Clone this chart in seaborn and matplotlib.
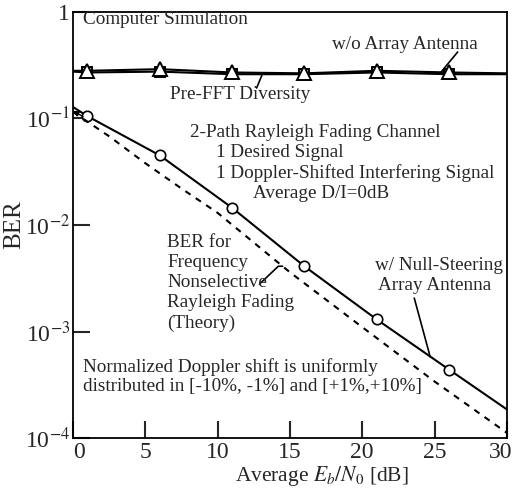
import numpy as np
import pandas as pd
import matplotlib
matplotlib.use("Agg")
import matplotlib.pyplot as plt
import matplotlib.transforms as mtransforms
import seaborn as sns

# ---- data ----
ebn0_sim = [0, 1, 6, 11, 16, 21, 26, 30]
wo_array = [0.28, 0.28, 0.29, 0.27, 0.265, 0.28, 0.27, 0.265]
pre_fft = [0.275, 0.27, 0.275, 0.26, 0.26, 0.27, 0.26, 0.26]
null_steer = [0.128, 0.105, 0.045, 0.0145, 0.0041, 0.0013, 0.00044, 0.000186]
ebn0_theory = [0, 2.5, 5, 7.5, 10, 15, 20, 25, 30]
theory = [0.115, 0.068, 0.038, 0.022, 0.013, 0.0036, 0.0011, 0.00034, 0.000112]
x_ticks = [0, 5, 10, 15, 20, 25, 30]
y_ticks = [1e-4, 1e-3, 1e-2, 1e-1, 1]
y_tick_labels = ["10$^{-4}$", "10$^{-3}$", "10$^{-2}$", "10$^{-1}$", "1"]

sns.set_style("white")
plt.rcParams["font.family"] = ["Liberation Serif", "DejaVu Serif"]
plt.rcParams["mathtext.fontset"] = "stix"

fig = plt.figure(figsize=(5.14, 4.95), dpi=100)
ax = fig.add_axes([0.142, 0.115, 0.844, 0.861])

df_sim = pd.DataFrame({"x": ebn0_sim, "wo": wo_array, "pre": pre_fft, "null": null_steer})
df_th = pd.DataFrame({"x": ebn0_theory, "th": theory})
mk = [1, 2, 3, 4, 5, 6]

sns.lineplot(data=df_sim, x="x", y="pre", ax=ax, color="black", lw=1.5,
             marker="s", markevery=mk, markersize=7.5, markerfacecolor="white",
             markeredgecolor="black", markeredgewidth=1.4)
sns.lineplot(data=df_sim, x="x", y="wo", ax=ax, color="black", lw=1.5,
             marker="^", markevery=mk, markersize=10, markerfacecolor="white",
             markeredgecolor="black", markeredgewidth=1.4)
sns.lineplot(data=df_sim, x="x", y="null", ax=ax, color="black", lw=1.5,
             marker="o", markevery=mk, markersize=7.5, markerfacecolor="white",
             markeredgecolor="black", markeredgewidth=1.2)
sns.lineplot(data=df_th, x="x", y="th", ax=ax, color="black", lw=1.5,
             linestyle=(0, (3, 3)))

ax.set_yscale("log")
ax.set_xlim(0, 30)
ax.set_ylim(1e-4, 1)
ax.set_xticks(x_ticks)
ax.set_xticklabels([str(t) for t in x_ticks])
ax.set_yticks(y_ticks)
ax.set_yticklabels(y_tick_labels)
ax.minorticks_off()
ax.tick_params(axis="both", direction="in", length=12, width=1.5,
               labelsize=17, left=True, bottom=True, top=False, right=False)
ax.tick_params(axis="x", pad=3)
ax.tick_params(axis="y", pad=2)
for s in ax.spines.values():
    s.set_color("black")
    s.set_linewidth(1.3)

xlabels = ax.get_xticklabels()
xlabels[0].set_horizontalalignment("left")
xlabels[-1].set_transform(xlabels[-1].get_transform() +
                          mtransforms.ScaledTranslation(-6 / 100, 0, fig.dpi_scale_trans))

ax.set_xlabel("Average $E_b/N_0$ [dB]", fontsize=15.5)
ax.xaxis.set_label_coords(0.574, -0.062)
ax.set_ylabel("BER", fontsize=18, labelpad=0)

fs = 13.8
T = ax.transAxes
ax.text(0.023, 0.981, "Computer Simulation", transform=T, fontsize=fs, va="center")
ax.text(0.597, 0.923, "w/o Array Antenna", transform=T, fontsize=fs, va="center")
ax.text(0.224, 0.805, "Pre-FFT Diversity", transform=T, fontsize=fs, va="center")
ax.text(0.270, 0.718, "2-Path Rayleigh Fading Channel", transform=T, fontsize=fs, va="center")
ax.text(0.329, 0.669, "1 Desired Signal", transform=T, fontsize=fs, va="center")
ax.text(0.329, 0.622, "1 Doppler-Shifted Interfering Signal", transform=T, fontsize=fs, va="center")
ax.text(0.415, 0.575, "Average D/I=0dB", transform=T, fontsize=fs, va="center")
for i, line in enumerate(["BER for", "Frequency", "Nonselective", "Rayleigh Fading", "(Theory)"]):
    ax.text(0.217, 0.458 - i * 0.047, line, transform=T, fontsize=fs, va="center")
ax.text(0.696, 0.406, "w/ Null-Steering", transform=T, fontsize=fs, va="center")
ax.text(0.703, 0.359, "Array Antenna", transform=T, fontsize=fs, va="center")
ax.text(0.023, 0.167, "Normalized Doppler shift is uniformly", transform=T, fontsize=fs, va="center")
ax.text(0.023, 0.120, "distributed in [-10%, -1%] and [+1%,+10%]", transform=T, fontsize=fs, va="center")

# leader lines
ax.plot([25.4, 26.6], [0.267, 0.42], color="black", lw=1.2)
ax.plot([13.1, 12.7], [0.262, 0.193], color="black", lw=1.2)
ax.plot([23.6, 24.7], [0.00206, 0.00058], color="black", lw=1.2)
ax.plot([12.9, 14.2, 14.5], [0.00279, 0.0041, 0.0041], color="black", lw=1.2)
ax.annotate("", xy=(0.0, 0.118), xytext=(0.7, 0.104),
            arrowprops=dict(arrowstyle="-|>", color="black", lw=1.0,
                            mutation_scale=8, shrinkA=0, shrinkB=0))

fig.savefig("out.png", dpi=100)
